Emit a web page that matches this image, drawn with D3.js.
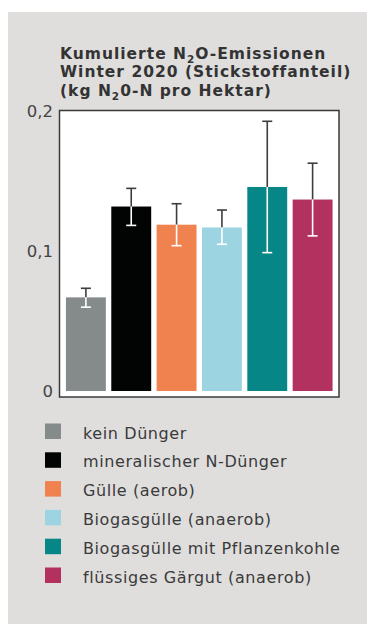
<!DOCTYPE html>
<html>
<head>
<meta charset="utf-8">
<script src="https://cdn.jsdelivr.net/npm/d3@7"></script>
<style>
  html, body { margin: 0; padding: 0; background: #ffffff; }
  svg { display: block; }
  text { font-family: "DejaVu Sans", Verdana, sans-serif; }
</style>
</head>
<body>
<script>
// Treatments, mean cumulative N2O-N emissions and error-bar limits (kg N2O-N/ha)
const categories = [
  "kein Dünger",
  "mineralischer N-Dünger",
  "Gülle (aerob)",
  "Biogasgülle (anaerob)",
  "Biogasgülle mit Pflanzenkohle",
  "flüssiges Gärgut (anaerob)"
];
const values    = [0.067, 0.132, 0.119, 0.117, 0.146, 0.137];
const errorHigh = [0.0735, 0.145, 0.134, 0.1295, 0.193, 0.163];
const errorLow  = [0.060, 0.1185, 0.104, 0.105, 0.099, 0.111];
const colors    = ["#858b8b", "#020403", "#f0824f", "#9dd4e2", "#078688", "#b2315f"];
const yTicks    = [0, 0.1, 0.2];
const yTickLabels = ["0", "0,1", "0,2"];

const W = 367, H = 624;
const svg = d3.select("body").append("svg").attr("width", W).attr("height", H);

// grey panel
svg.append("rect").attr("x", 8).attr("y", 12).attr("width", W - 8).attr("height", H - 12)
  .attr("fill", "#dfdedd");

// title, three lines with subscript 2
const title = svg.append("g").attr("font-size", 15.5).attr("font-weight", "bold")
  .attr("fill", "#333333").attr("letter-spacing", 1);
const t1 = title.append("text").attr("x", 60).attr("y", 58.5);
t1.append("tspan").text("Kumulierte N");
t1.append("tspan").attr("font-size", 10.5).attr("dy", 4).text("2");
t1.append("tspan").attr("dy", -4).text("O-Emissionen");
title.append("text").attr("x", 60).attr("y", 77).text("Winter 2020 (Stickstoffanteil)");
const t3 = title.append("text").attr("x", 60).attr("y", 95.5);
t3.append("tspan").text("(kg N");
t3.append("tspan").attr("font-size", 10.5).attr("dy", 4).text("2");
t3.append("tspan").attr("dy", -4).text("0-N pro Hektar)");

// plot frame
const frame = { x0: 59.5, y0: 110.5, x1: 339, y1: 397 };
svg.append("rect")
  .attr("x", frame.x0).attr("y", frame.y0)
  .attr("width", frame.x1 - frame.x0).attr("height", frame.y1 - frame.y0)
  .attr("fill", "#ffffff").attr("stroke", "#3a3a3a").attr("stroke-width", 1.5);

const x = d3.scaleBand().domain(categories).range([60.5, 338]).paddingInner(0.12).paddingOuter(0.12);
const y = d3.scaleLinear().domain([0, 0.2]).range([391, 111.5]);

// y axis labels
const yAxis = d3.axisLeft(y).tickValues(yTicks)
  .tickFormat((d, i) => yTickLabels[i]).tickSize(0).tickPadding(0);
const yg = svg.append("g").attr("transform", "translate(53,0)").call(yAxis);
yg.select(".domain").remove();
yg.selectAll("text").attr("font-size", 16.5).attr("fill", "#444444")
  .attr("font-family", "'DejaVu Sans', Verdana, sans-serif");

// bars
svg.append("g").selectAll("rect").data(categories).join("rect")
  .attr("x", d => x(d)).attr("width", x.bandwidth())
  .attr("y", (d, i) => y(values[i])).attr("height", (d, i) => y(0) - y(values[i]))
  .attr("fill", (d, i) => colors[i]);

// error bars: dark above the bar top, white inside the bar
const eb = svg.append("g");
categories.forEach((c, i) => {
  const cx = x(c) + x.bandwidth() / 2;
  const cap = 5;
  eb.append("line").attr("x1", cx).attr("x2", cx)
    .attr("y1", y(errorHigh[i])).attr("y2", y(values[i]))
    .attr("stroke", "#3d3d3d").attr("stroke-width", 1.6);
  eb.append("line").attr("x1", cx - cap).attr("x2", cx + cap)
    .attr("y1", y(errorHigh[i])).attr("y2", y(errorHigh[i]))
    .attr("stroke", "#3d3d3d").attr("stroke-width", 1.6);
  eb.append("line").attr("x1", cx).attr("x2", cx)
    .attr("y1", y(values[i])).attr("y2", y(errorLow[i]))
    .attr("stroke", "#ffffff").attr("stroke-width", 1.6);
  eb.append("line").attr("x1", cx - cap).attr("x2", cx + cap)
    .attr("y1", y(errorLow[i])).attr("y2", y(errorLow[i]))
    .attr("stroke", "#ffffff").attr("stroke-width", 1.6);
});

// legend
const leg = svg.append("g");
categories.forEach((c, i) => {
  const yy = 423.5 + i * 28.8;
  leg.append("rect").attr("x", 45).attr("y", yy).attr("width", 16).attr("height", 15.5)
    .attr("fill", colors[i]);
  leg.append("text").attr("x", 83).attr("y", yy + 15).attr("font-size", 16)
    .attr("letter-spacing", 0.6).attr("fill", "#3a3a3a").text(c);
});
</script>
</body>
</html>
